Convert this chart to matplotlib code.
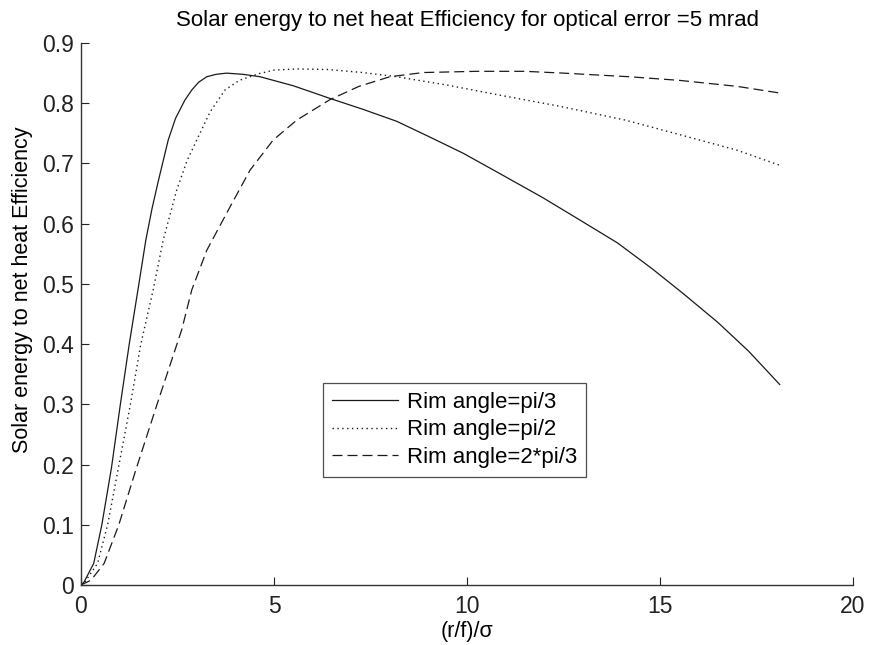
import numpy as np
import matplotlib.pyplot as plt

plt.rcParams['font.family'] = ['Liberation Sans', 'DejaVu Sans']

# values
x_pi3 = [0, 0.08, 0.33, 0.54, 0.79, 1.02, 1.25, 1.5, 1.68, 1.84, 2.0, 2.26, 2.45, 2.69,
         2.87, 3.05, 3.26, 3.5, 3.77, 4.2, 4.64, 5.5, 6.45, 7.3, 8.18, 9.0, 9.9,
         10.8, 11.97, 12.9, 13.9, 14.8, 15.6, 16.5, 17.3, 18.1]
y_pi3 = [0, 0.005, 0.036, 0.1, 0.195, 0.3, 0.4, 0.5, 0.573, 0.625, 0.67, 0.739, 0.775,
         0.805, 0.822, 0.835, 0.844, 0.848, 0.850, 0.848, 0.844, 0.829, 0.808, 0.790,
         0.770, 0.745, 0.717, 0.685, 0.643, 0.607, 0.568, 0.525, 0.484, 0.436,
         0.388, 0.333]

x_pi2 = [0, 0.1, 0.43, 0.69, 0.97, 1.28, 1.55, 1.87, 2.13, 2.48, 2.75, 3.0, 3.34,
         3.73, 4.1, 4.6, 5.0, 5.6, 6.4, 7.3, 8.18, 9.5, 10.8, 12.4, 14.1, 15.5,
         17.0, 18.1]
y_pi2 = [0, 0.005, 0.036, 0.1, 0.195, 0.3, 0.4, 0.49, 0.573, 0.656, 0.705, 0.739,
         0.785, 0.822, 0.838, 0.849, 0.855, 0.857, 0.856, 0.851, 0.844, 0.830, 0.814,
         0.795, 0.772, 0.748, 0.722, 0.697]

x_2pi3 = [0, 0.26, 0.6, 0.98, 1.42, 1.97, 2.61, 2.87, 3.26, 3.82, 4.38, 4.98, 5.59,
          6.45, 7.2, 8.0, 8.87, 10.25, 11.5, 12.5, 14.2, 15.5, 17.0, 18.1]
y_2pi3 = [0, 0.008, 0.036, 0.1, 0.191, 0.3, 0.424, 0.49, 0.556, 0.623, 0.689, 0.739,
          0.772, 0.806, 0.828, 0.844, 0.851, 0.853, 0.853, 0.850, 0.844, 0.838,
          0.828, 0.817]

labels = ['Rim angle=pi/3', 'Rim angle=pi/2', 'Rim angle=2*pi/3']

fig = plt.figure(figsize=(8.69, 6.45), dpi=100)
ax = fig.add_axes([0.0932, 0.093, 0.8884, 0.8403])

ax.plot(x_pi3, y_pi3, color='#1a1a1a', lw=0.9, ls='-', label=labels[0])
ax.plot(x_pi2, y_pi2, color='#1a1a1a', lw=1.0, ls=(0, (1, 2.5)), label=labels[1])
ax.plot(x_2pi3, y_2pi3, color='#1a1a1a', lw=0.9, ls=(0, (8, 4)), label=labels[2])

ax.set_xlim(0, 20)
ax.set_ylim(0, 0.9)
ax.set_xticks([0, 5, 10, 15, 20])
ax.set_yticks(np.arange(0, 0.91, 0.1))
ax.set_yticklabels(['0', '0.1', '0.2', '0.3', '0.4', '0.5', '0.6', '0.7', '0.8', '0.9'])
ax.tick_params(direction='in', length=6, width=0.8, labelsize=16.5, colors='#222222')
ax.tick_params(axis='x', pad=7)
ax.tick_params(axis='y', pad=5)
for s in ['top', 'right']:
    ax.spines[s].set_visible(False)
for s in ['left', 'bottom']:
    ax.spines[s].set_color('#333333')
    ax.spines[s].set_linewidth(1.0)

ax.set_title('Solar energy to net heat Efficiency for optical error =5 mrad', fontsize=16, pad=12)
ax.set_xlabel('(r/f)/\u03c3', fontsize=15.5, labelpad=2)
ax.set_ylabel('Solar energy to net heat Efficiency', fontsize=15.5)
ax.yaxis.set_label_coords(-0.062, 0.544)

leg = ax.legend(loc='upper left', bbox_to_anchor=(0.313, 0.373), fontsize=16,
                frameon=True, fancybox=False, handlelength=3.0, borderpad=0.4,
                labelspacing=0.3, handletextpad=0.4, borderaxespad=0)
leg.get_frame().set_edgecolor('#222222')
leg.get_frame().set_linewidth(0.9)

fig.savefig('out.png', dpi=100)
